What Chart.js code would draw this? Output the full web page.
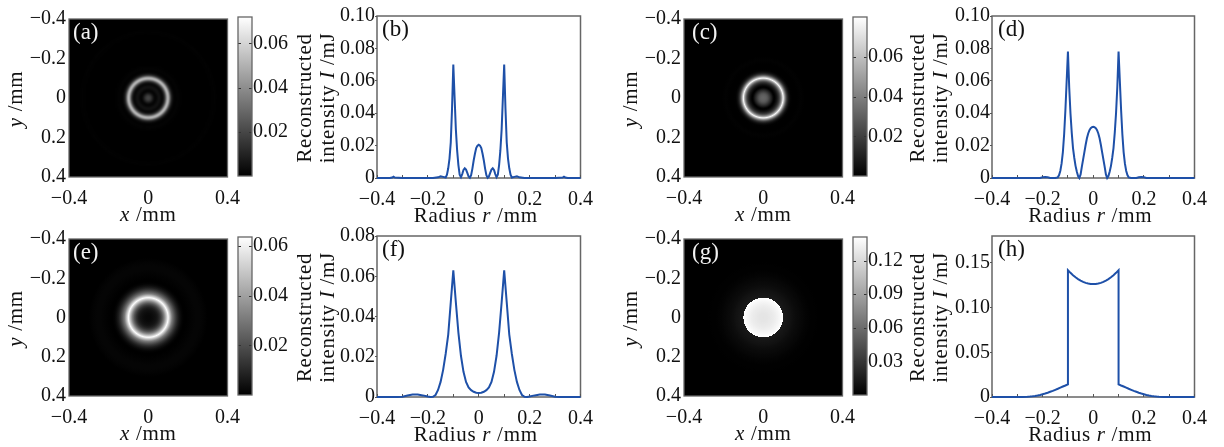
<!DOCTYPE html>
<html>
<head>
<meta charset="utf-8">
<script src="https://cdn.jsdelivr.net/npm/chart.js@4"></script>
<style>
  html, body { margin: 0; background: #fff; }
  #page { position: relative; width: 1224px; height: 447px; overflow: hidden; }
  canvas { position: absolute; }
</style>
</head>
<body>
<div id="page"></div>
<script>
// radial profiles
const radiusB = [-0.4,-0.35,-0.34,-0.335,-0.33,-0.3,-0.18,-0.16,-0.15,-0.14,-0.13,-0.125,-0.12,-0.115,-0.11,-0.105,-0.1,-0.095,-0.09,-0.085,-0.08,-0.075,-0.07,-0.065,-0.06,-0.055,-0.05,-0.045,-0.04,-0.035,-0.03,-0.025,-0.02,-0.015,-0.01,-0.005,0,0.005,0.01,0.015,0.02,0.025,0.03,0.035,0.04,0.045,0.05,0.055,0.06,0.065,0.07,0.075,0.08,0.085,0.09,0.095,0.1,0.105,0.11,0.115,0.12,0.125,0.13,0.14,0.15,0.16,0.18,0.3,0.33,0.335,0.34,0.35,0.4];
const intensityB = [0,0,0.0003,0.0008,0.0003,0,0,0.0004,0.001,0.0007,0.0003,0.002,0.006,0.012,0.022,0.043,0.07,0.05,0.03,0.017,0.008,0.002,0.0005,0.0024,0.005,0.006,0.0052,0.0032,0.001,0.0002,0.0018,0.0058,0.0108,0.015,0.0185,0.02,0.0205,0.02,0.0185,0.015,0.0108,0.0058,0.0018,0.0002,0.001,0.0032,0.0052,0.006,0.005,0.0024,0.0005,0.002,0.008,0.017,0.03,0.05,0.07,0.043,0.022,0.012,0.006,0.002,0.0003,0.0007,0.001,0.0004,0,0,0.0003,0.0008,0.0003,0,0];

const radiusD = [-0.4,-0.21,-0.2,-0.19,-0.18,-0.17,-0.15,-0.14,-0.135,-0.13,-0.125,-0.12,-0.115,-0.11,-0.105,-0.1,-0.095,-0.09,-0.085,-0.08,-0.075,-0.07,-0.065,-0.06,-0.055,-0.05,-0.045,-0.04,-0.035,-0.03,-0.025,-0.02,-0.015,-0.01,-0.005,0,0.005,0.01,0.015,0.02,0.025,0.03,0.035,0.04,0.045,0.05,0.055,0.06,0.065,0.07,0.075,0.08,0.085,0.09,0.095,0.1,0.105,0.11,0.115,0.12,0.125,0.13,0.135,0.14,0.15,0.17,0.18,0.19,0.2,0.21,0.4];
const intensityD = [0,0,0.0004,0.0006,0.0004,0,0,0.0004,0.0018,0.0045,0.009,0.016,0.027,0.042,0.06,0.078,0.056,0.04,0.028,0.0185,0.0125,0.0075,0.004,0.0012,0,0.0022,0.007,0.0115,0.016,0.0205,0.0245,0.0275,0.0295,0.0308,0.0314,0.0316,0.0314,0.0308,0.0295,0.0275,0.0245,0.0205,0.016,0.0115,0.007,0.0022,0,0.0012,0.004,0.0075,0.0125,0.0185,0.028,0.04,0.056,0.078,0.06,0.042,0.027,0.016,0.009,0.0045,0.0018,0.0004,0,0,0.0004,0.0006,0.0004,0,0];

const radiusF = [-0.4,-0.32,-0.3,-0.28,-0.26,-0.25,-0.24,-0.22,-0.2,-0.19,-0.18,-0.17,-0.16,-0.15,-0.14,-0.13,-0.12,-0.11,-0.105,-0.1,-0.095,-0.09,-0.08,-0.07,-0.06,-0.05,-0.04,-0.03,-0.02,-0.01,0,0.01,0.02,0.03,0.04,0.05,0.06,0.07,0.08,0.09,0.095,0.1,0.105,0.11,0.12,0.13,0.14,0.15,0.16,0.17,0.18,0.19,0.2,0.22,0.24,0.25,0.26,0.28,0.3,0.32,0.4];
const intensityF = [0,0,0.0001,0.0007,0.0012,0.0013,0.0012,0.0008,0.0002,0,0.0001,0.001,0.0035,0.0075,0.0135,0.0215,0.031,0.047,0.055,0.063,0.055,0.047,0.032,0.0205,0.0125,0.0075,0.0048,0.0034,0.0026,0.0021,0.002,0.0021,0.0026,0.0034,0.0048,0.0075,0.0125,0.0205,0.032,0.047,0.055,0.063,0.055,0.047,0.031,0.0215,0.0135,0.0075,0.0035,0.001,0.0001,0,0.0002,0.0008,0.0012,0.0013,0.0012,0.0007,0.0001,0,0];

const radiusH = [-0.4,-0.3,-0.28,-0.26,-0.25,-0.24,-0.23,-0.22,-0.21,-0.2,-0.19,-0.18,-0.17,-0.16,-0.15,-0.14,-0.13,-0.12,-0.11,-0.1,-0.1,-0.09,-0.08,-0.07,-0.06,-0.05,-0.04,-0.03,-0.02,-0.01,0,0.01,0.02,0.03,0.04,0.05,0.06,0.07,0.08,0.09,0.1,0.1,0.11,0.12,0.13,0.14,0.15,0.16,0.17,0.18,0.19,0.2,0.21,0.22,0.23,0.24,0.25,0.26,0.28,0.3,0.4];
const intensityH = [0,0,0.0001,0.0003,0.0005,0.0008,0.0012,0.0017,0.0023,0.0031,0.0039,0.0048,0.0058,0.0068,0.008,0.0092,0.0105,0.0117,0.0129,0.0142,0.1418,0.1388,0.1362,0.1338,0.1318,0.1301,0.1287,0.1276,0.1268,0.1264,0.1262,0.1264,0.1268,0.1276,0.1287,0.1301,0.1318,0.1338,0.1362,0.1388,0.1418,0.0142,0.0129,0.0117,0.0105,0.0092,0.008,0.0068,0.0058,0.0048,0.0039,0.0031,0.0023,0.0017,0.0012,0.0008,0.0005,0.0003,0.0001,0,0];

// tick values and labels
const axisTicks = [-0.4,-0.3,-0.2,-0.1,0,0.1,0.2,0.3,0.4];
const radiusLabels = ["−0.4","","−0.2","","0","","0.2","","0.4"];
const imageXTicks = [-0.4,-0.2,0,0.2,0.4];
const imageXLabels = ["−0.4","","0","","0.4"];
const imageYLabels = ["−0.4","−0.2","0","0.2","0.4"];

const yTicksB = [0,0.02,0.04,0.06,0.08,0.1];
const yLabelsB = ["0","0.02","0.04","0.06","0.08","0.10"];
const yTicksF = [0,0.02,0.04,0.06,0.08];
const yLabelsF = ["0","0.02","0.04","0.06","0.08"];
const yTicksH = [0,0.05,0.1,0.15];
const yLabelsH = ["0","0.05","0.10","0.15"];

const barTicksA = [0.02,0.04,0.06];
const barLabelsA = ["0.02","0.04","0.06"];
const barTicksG = [0.03,0.06,0.09,0.12];
const barLabelsG = ["0.03","0.06","0.09","0.12"];

const SERIF = '"Liberation Serif", serif';
const FRAME = "#666666";
const BLUE = "#1e50a8";

function tickFixer(values) {
  return (scale) => { scale.ticks = values.map((value) => ({ value })); };
}

// text runs with an italic letter in them, the library's titles only take one font
function drawRuns(ctx, runs, cx, cy, rotated) {
  ctx.save();
  ctx.translate(cx, cy);
  if (rotated) ctx.rotate(-Math.PI / 2);
  ctx.fillStyle = "#111";
  ctx.textBaseline = "middle";
  ctx.textAlign = "left";
  ctx.letterSpacing = "0.7px";
  let total = 0;
  runs.forEach((run) => {
    ctx.font = (run.italic ? "italic " : "") + "21px " + SERIF;
    total += ctx.measureText(run.text).width;
  });
  let x = -total / 2;
  runs.forEach((run) => {
    ctx.font = (run.italic ? "italic " : "") + "21px " + SERIF;
    ctx.fillText(run.text, x, 0);
    x += ctx.measureText(run.text).width;
  });
  ctx.restore();
}

const panelPlugin = {
  id: "panel",
  beforeDraw(chart, args, opts) {
    if (opts.curve) {
      const { ctx, chartArea: a } = chart;
      ctx.strokeStyle = FRAME;
      ctx.lineWidth = 1.5;
      ctx.strokeRect(a.left, a.top, a.width, a.height);
    }
  },
  beforeDatasetsDraw(chart, args, opts) {
    const { ctx, chartArea: a } = chart;
    if (opts.radial) {
      // radial gradient built from the dataset's profile, placed with the scales
      const xs = chart.scales.x, ys = chart.scales.y;
      const cx = xs.getPixelForValue(0), cy = ys.getPixelForValue(0);
      const rMax = xs.getPixelForValue(0.4) - cx;
      const g = ctx.createRadialGradient(cx, cy, 0, cx, cy, rMax);
      chart.data.datasets[0].data.filter((p) => p.x >= 0).forEach((p) => {
        const v = Math.round(255 * Math.min(1, p.y / opts.radial));
        g.addColorStop(p.x / 0.4, `rgb(${v},${v},${v})`);
      });
      ctx.save();
      ctx.beginPath();
      ctx.rect(a.left, a.top, a.width, a.height);
      ctx.clip();
      ctx.filter = `blur(${opts.soft}px)`; // the reference image is soft
      ctx.fillStyle = g;
      ctx.fillRect(a.left - 10, a.top - 10, a.width + 20, a.height + 20);
      ctx.restore();
    }
  },
  afterDatasetsDraw(chart, args, opts) {
    const { ctx, chartArea: a } = chart;
    if (opts.bothSides) {
      const ys = chart.scales.y;
      ctx.strokeStyle = "#333";
      ctx.lineWidth = 1;
      ys.ticks.forEach((t) => {
        const y = Math.round(ys.getPixelForValue(t.value)) + 0.5;
        ctx.beginPath(); ctx.moveTo(a.left, y); ctx.lineTo(a.left + 3, y); ctx.stroke();
        ctx.beginPath(); ctx.moveTo(a.right, y); ctx.lineTo(a.right - 3, y); ctx.stroke();
      });
    }
    if (!opts.curve) {
      ctx.strokeStyle = FRAME;
      ctx.lineWidth = 1.3;
      ctx.strokeRect(a.left, a.top, a.width, a.height);
    }
    if (opts.letter) {
      ctx.save();
      ctx.font = "23px " + SERIF;
      ctx.fillStyle = opts.letterColor;
      ctx.textBaseline = "middle";
      ctx.fillText(opts.letter, a.left + opts.letterDx, a.top + 14);
      ctx.restore();
    }
    if (opts.xTitle) drawRuns(ctx, opts.xTitle, (a.left + a.right) / 2 + opts.xTitleDx, a.bottom + 38, false);
    (opts.yTitles || []).forEach((t) => drawRuns(ctx, t.runs, a.left - t.dx, (a.top + a.bottom) / 2 + 1, true));
  },
};
Chart.register(panelPlugin);

function addCanvas(left, top, width, height) {
  const canvas = document.createElement("canvas");
  canvas.width = width;
  canvas.height = height;
  canvas.style.left = left + "px";
  canvas.style.top = top + "px";
  canvas.style.width = width + "px";
  canvas.style.height = height + "px";
  document.getElementById("page").appendChild(canvas);
  return canvas;
}

const baseOptions = { responsive: false, animation: false, events: [] };
const tickFont = { family: SERIF, size: 20 };

function imagePanel(box, radius, intensity, colorMax, soft, letter, letterDx) {
  const m = { l: 66, t: 12, r: 22, b: 54 };
  const canvas = addCanvas(box.l - m.l, box.t - m.t, box.r - box.l + m.l + m.r, box.b - box.t + m.t + m.b);
  new Chart(canvas, {
    type: "scatter",
    data: {
      datasets: [{ data: radius.map((r, i) => ({ x: r, y: intensity[i] })), pointRadius: 0 }],
    },
    options: {
      ...baseOptions,
      layout: { autoPadding: false, padding: { top: m.t, right: m.r } },
      plugins: {
        legend: { display: false },
        tooltip: { enabled: false },
        panel: {
          radial: colorMax, soft, letter, letterDx, letterColor: "#f2f2f2",
          xTitle: [{ text: "x", italic: true }, { text: " /mm" }], xTitleDx: 0,
          yTitles: [{ runs: [{ text: "y", italic: true }, { text: " /mm" }], dx: 53 }],
        },
      },
      scales: {
        x: {
          type: "linear", min: -0.4, max: 0.4,
          afterBuildTicks: tickFixer(imageXTicks),
          afterFit: (s) => { s.height = m.b; },
          grid: { drawOnChartArea: false, drawTicks: false },
          border: { display: false },
          ticks: { color: "#111", font: tickFont, padding: 10, autoSkip: false, maxRotation: 0,
            callback: (v, i) => imageXLabels[i] },
        },
        y: {
          type: "linear", min: -0.4, max: 0.4, reverse: true,
          afterBuildTicks: tickFixer(imageXTicks),
          afterFit: (s) => { s.width = m.l; },
          grid: { drawOnChartArea: false, drawTicks: false },
          border: { display: false },
          ticks: { color: "#111", font: tickFont, padding: 3, autoSkip: false,
            callback: (v, i) => imageYLabels[i] },
        },
      },
    },
  });
}

function colorBar(box, colorMax, ticks, labels) {
  const m = { l: 3, t: 12, r: 44, b: 12 };
  const canvas = addCanvas(box.l - m.l, box.t - m.t, box.r - box.l + m.l + m.r, box.b - box.t + m.t + m.b);
  new Chart(canvas, {
    type: "bar",
    data: {
      labels: ["I"],
      datasets: [{
        data: [[0, colorMax]],
        barPercentage: 1,
        categoryPercentage: 1,
        backgroundColor: (c) => {
          const a = c.chart.chartArea;
          if (!a) return "#888";
          const g = c.chart.ctx.createLinearGradient(0, a.bottom, 0, a.top);
          g.addColorStop(0, "#000");
          g.addColorStop(1, "#fff");
          return g;
        },
      }],
    },
    options: {
      ...baseOptions,
      layout: { autoPadding: false, padding: { top: m.t, bottom: m.b, left: m.l } },
      plugins: {
        legend: { display: false },
        tooltip: { enabled: false },
        panel: { bothSides: true },
      },
      scales: {
        x: { display: false },
        y: {
          position: "right", min: 0, max: colorMax,
          afterBuildTicks: tickFixer(ticks),
          afterFit: (s) => { s.width = m.r; },
          grid: { drawOnChartArea: false, drawTicks: false },
          border: { display: false },
          ticks: { color: "#111", font: tickFont, padding: 1, autoSkip: false,
            callback: (v, i) => labels[i] },
        },
      },
    },
  });
}

function curvePanel(box, radius, intensity, yMax, ticks, labels, letter, letterDx, titleDx) {
  const m = { l: 86, t: 12, r: 24, b: 54 };
  const canvas = addCanvas(box.l - m.l, box.t - m.t, box.r - box.l + m.l + m.r, box.b - box.t + m.t + m.b);
  new Chart(canvas, {
    type: "line",
    data: {
      datasets: [{
        data: radius.map((r, i) => ({ x: r, y: intensity[i] })),
        borderColor: BLUE,
        borderWidth: 2,
        pointRadius: 0,
        tension: 0,
        clip: false,
      }],
    },
    options: {
      ...baseOptions,
      layout: { autoPadding: false, padding: { top: m.t, right: m.r } },
      plugins: {
        legend: { display: false },
        tooltip: { enabled: false },
        panel: {
          curve: true, letter, letterDx, letterColor: "#111",
          xTitle: [{ text: "Radius " }, { text: "r", italic: true }, { text: " /mm" }], xTitleDx: -3,
          yTitles: [
            { runs: [{ text: "Reconstructed" }], dx: titleDx },
            { runs: [{ text: "intensity " }, { text: "I", italic: true }, { text: " /mJ" }], dx: titleDx - 23 },
          ],
        },
      },
      scales: {
        x: {
          type: "linear", min: -0.4, max: 0.4,
          afterBuildTicks: tickFixer(axisTicks),
          afterFit: (s) => { s.height = m.b; },
          grid: { drawOnChartArea: false, tickLength: -3, tickColor: "#555", tickWidth: 1 },
          border: { display: false },
          ticks: { color: "#111", font: tickFont, padding: 13, autoSkip: false, maxRotation: 0,
            callback: (v, i) => radiusLabels[i] },
        },
        y: {
          min: 0, max: yMax,
          afterBuildTicks: tickFixer(ticks),
          afterFit: (s) => { s.width = m.l; },
          grid: { drawOnChartArea: false, tickLength: 2, tickColor: "#555", tickWidth: 1 },
          border: { display: false },
          ticks: { color: "#111", font: tickFont, padding: 0, autoSkip: false,
            callback: (v, i) => labels[i] },
        },
      },
    },
  });
}

// top row
imagePanel({ l: 69, t: 16, r: 228, b: 177 }, radiusB, intensityB, 0.072, 0.9, "(a)", 4);
colorBar({ l: 238, t: 16, r: 252, b: 177 }, 0.072, barTicksA, barLabelsA);
curvePanel({ l: 377, t: 16, r: 582, b: 178 }, radiusB, intensityB, 0.1, yTicksB, yLabelsB, "(b)", 5, 72);
imagePanel({ l: 684, t: 16, r: 843, b: 177 }, radiusD, intensityD, 0.08, 0.7, "(c)", 8);
colorBar({ l: 853, t: 16, r: 867, b: 177 }, 0.08, barTicksA, barLabelsA);
curvePanel({ l: 992, t: 16, r: 1196, b: 178 }, radiusD, intensityD, 0.1, yTicksB, yLabelsB, "(d)", 6, 74);
// bottom row
imagePanel({ l: 69, t: 236, r: 228, b: 396 }, radiusF, intensityF, 0.0636, 0.4, "(e)", 4);
colorBar({ l: 238, t: 236, r: 252, b: 396 }, 0.0636, barTicksA, barLabelsA);
curvePanel({ l: 377, t: 236, r: 582, b: 397 }, radiusF, intensityF, 0.08, yTicksF, yLabelsF, "(f)", 5, 72);
imagePanel({ l: 684, t: 236, r: 843, b: 396 }, radiusH, intensityH, 0.141, 0.5, "(g)", 8);
colorBar({ l: 853, t: 236, r: 867, b: 396 }, 0.141, barTicksG, barLabelsG);
curvePanel({ l: 992, t: 236, r: 1196, b: 397 }, radiusH, intensityH, 0.18, yTicksH, yLabelsH, "(h)", 6, 74);
</script>
</body>
</html>
